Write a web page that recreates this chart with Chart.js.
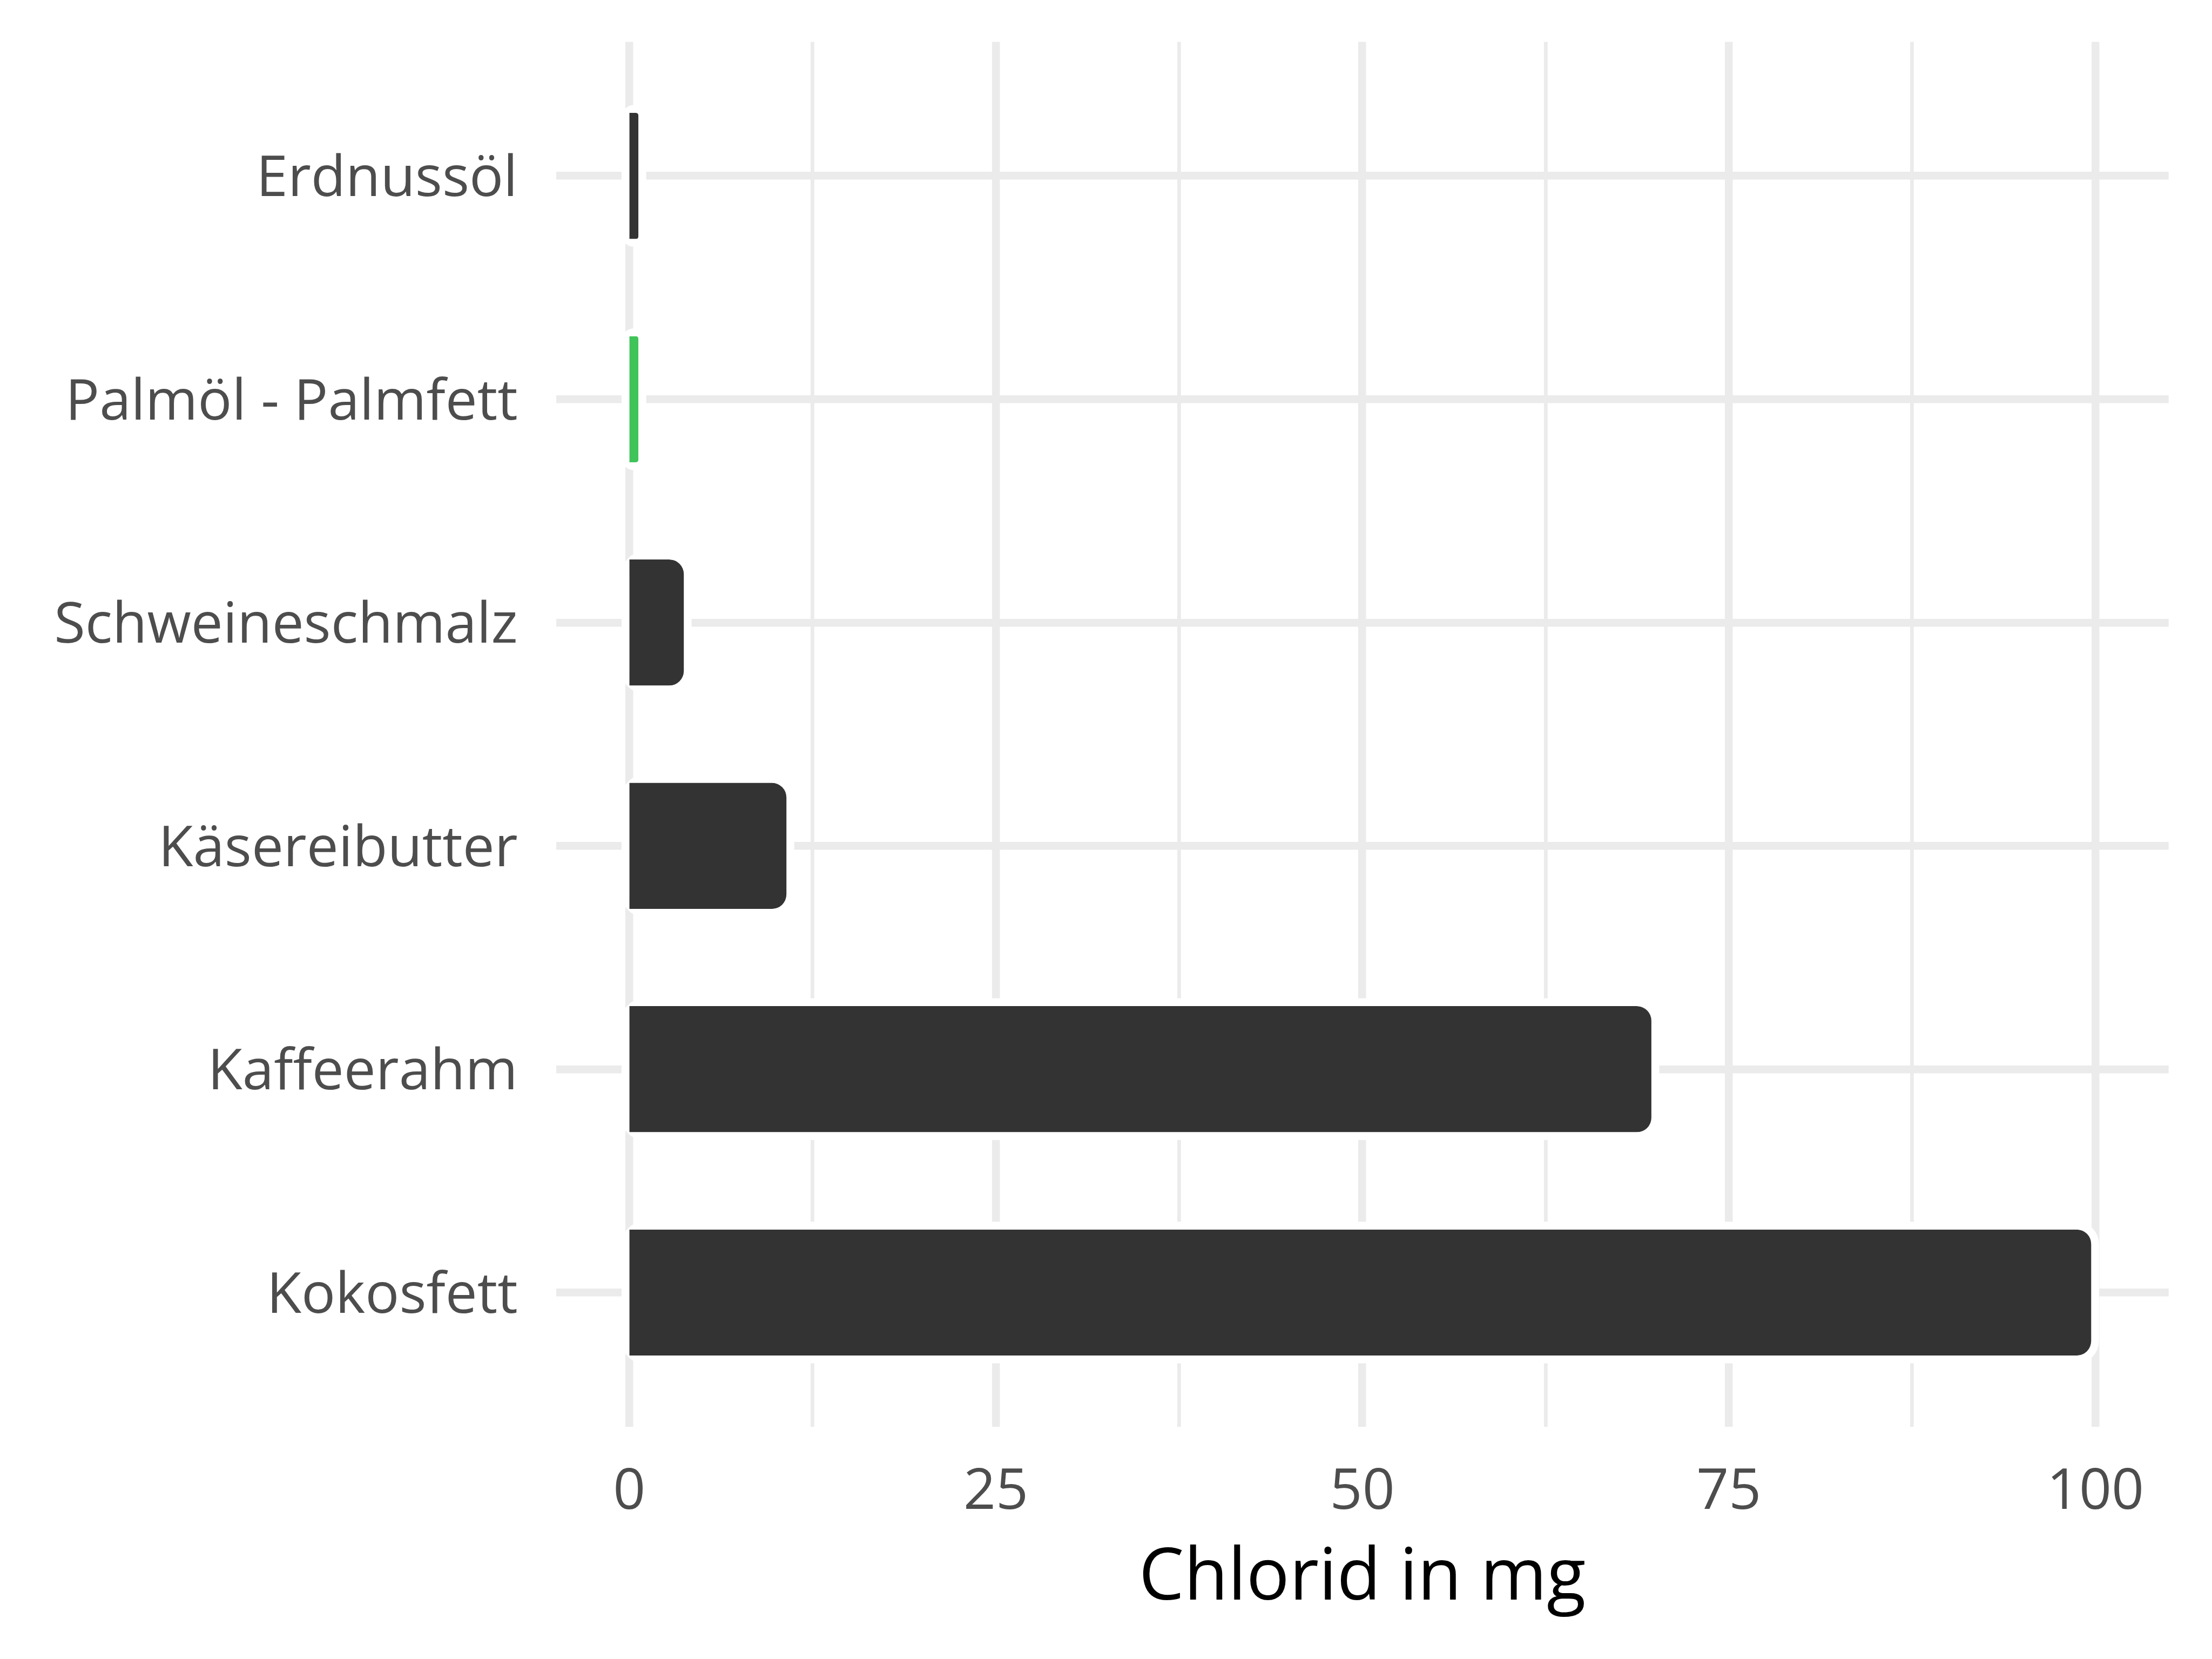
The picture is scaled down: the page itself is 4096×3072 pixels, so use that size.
<!DOCTYPE html>
<html>
<head>
<meta charset="utf-8">
<script src="https://cdn.jsdelivr.net/npm/chart.js@4.4.1/dist/chart.umd.min.js"></script>
<style>
  html, body { margin: 0; padding: 0; background: #ffffff; }
  #wrap { width: 4096px; height: 3072px; }
</style>
</head>
<body>
<div id="wrap"><canvas id="chlorChart" width="4096" height="3072"></canvas></div>
<script>
// Daten (Chlorid in mg)
const categories = ["Erdnussöl", "Palmöl - Palmfett", "Schweineschmalz", "Käsereibutter", "Kaffeerahm", "Kokosfett"];
const chloridValues = [0.9, 0.9, 4, 11, 70, 100];
const xTicks = [0, 25, 50, 75, 100];
const highlighted = "Palmöl - Palmfett";

const GRID = "#EBEBEB";
const INSET = 7.7;   // weisser Rand am Balkenende
const HALO = 14.5;   // weisser Rahmen um die Balken
const RADIUS = 27;

// weisser Rahmen um jeden Balken, über dem Gitter
const haloPlugin = {
  id: "halo",
  beforeDraw(chart) { chart.$gridPhase = true; },
  afterDraw(chart) { chart.$gridPhase = false; },
  beforeDatasetsDraw(chart) {
    const ctx = chart.ctx;
    const meta = chart.getDatasetMeta(0);
    ctx.save();
    ctx.fillStyle = "#ffffff";
    meta.data.forEach(el => {
      const p = el.getProps(["x", "y", "base", "height"], true);
      const left = p.base - HALO;
      const right = p.x - INSET + HALO;
      const top = p.y - p.height / 2 - HALO;
      const h = p.height + 2 * HALO;
      const w = right - left;
      const r = Math.min(RADIUS + HALO, w / 2, h / 2);
      ctx.beginPath();
      ctx.roundRect(left, top, w, h, r);
      ctx.fill();
    });
    ctx.restore();
  }
};

// Gitterlinie bei 0 soll den Balkenanfang nicht verschieben
function xGridWidth(c) {
  if (c.tick.value === 0 && !c.chart.$gridPhase) return 0;
  return xTicks.includes(c.tick.value) ? 14.5 : 6.8;
}

function renderChart() {
  const ctx = document.getElementById("chlorChart").getContext("2d");
  const minorTicks = xTicks.slice(1).map((t, i) => (t + xTicks[i]) / 2);
  const allXTicks = [...xTicks, ...minorTicks].sort((a, b) => a - b);

  new Chart(ctx, {
    type: "bar",
    data: {
      datasets: [{
        label: "Chlorid",
        data: chloridValues.map((v, i) => ({ x: v, y: i + 1 })),
        backgroundColor: categories.map(c => c === highlighted ? "#40C45A" : "#333333"),
        borderColor: "#ffffff",
        borderWidth: { top: 0, right: INSET, bottom: 0, left: 0 },
        borderSkipped: false,
        borderRadius: { topLeft: 0, bottomLeft: 0, topRight: RADIUS + INSET, bottomRight: RADIUS + INSET },
        barPercentage: 0.5646,
        categoryPercentage: 1
      }]
    },
    options: {
      indexAxis: "y",
      responsive: false,
      animation: false,
      devicePixelRatio: 1,
      layout: { padding: { top: 77.6, right: 80.3, left: 0, bottom: 0 } },
      plugins: {
        legend: { display: false },
        tooltip: { enabled: false }
      },
      scales: {
        x: {
          type: "linear",
          min: -5,
          max: 105,
          afterBuildTicks: scale => { scale.ticks = allXTicks.map(v => ({ value: v })); },
          afterFit: scale => { scale.height = 430.5; },
          grid: { color: GRID, lineWidth: xGridWidth, drawTicks: false },
          border: { display: false },
          ticks: {
            autoSkip: false,
            maxRotation: 0,
            padding: 60,
            color: "#4D4D4D",
            font: { family: "Open Sans", size: 105, lineHeight: 1.2 },
            callback: v => xTicks.includes(v) ? String(v) : ""
          },
          title: {
            display: true,
            text: "Chlorid in mg",
            color: "#000000",
            font: { family: "Open Sans", size: 133, lineHeight: 1.2 },
            padding: { top: 0, bottom: 68 }
          }
        },
        y: {
          type: "linear",
          min: 0.4,
          max: 6.6,
          reverse: true,
          offset: false,
          afterBuildTicks: scale => { scale.ticks = categories.map((_, i) => ({ value: i + 1 })); },
          afterFit: scale => {
            scale.width = 1029.6;
            scale.paddingTop = 0;
            scale.paddingBottom = 0;
          },
          grid: { color: GRID, lineWidth: 14.5, drawTicks: false, offset: false },
          border: { display: false },
          ticks: {
            autoSkip: false,
            padding: 71,
            labelOffset: 7.6,
            color: "#4D4D4D",
            font: { family: "Open Sans", size: 105, lineHeight: 1.2 },
            callback: v => categories[v - 1]
          }
        }
      }
    },
    plugins: [haloPlugin]
  });
}

window.onload = renderChart;
</script>
</body>
</html>
